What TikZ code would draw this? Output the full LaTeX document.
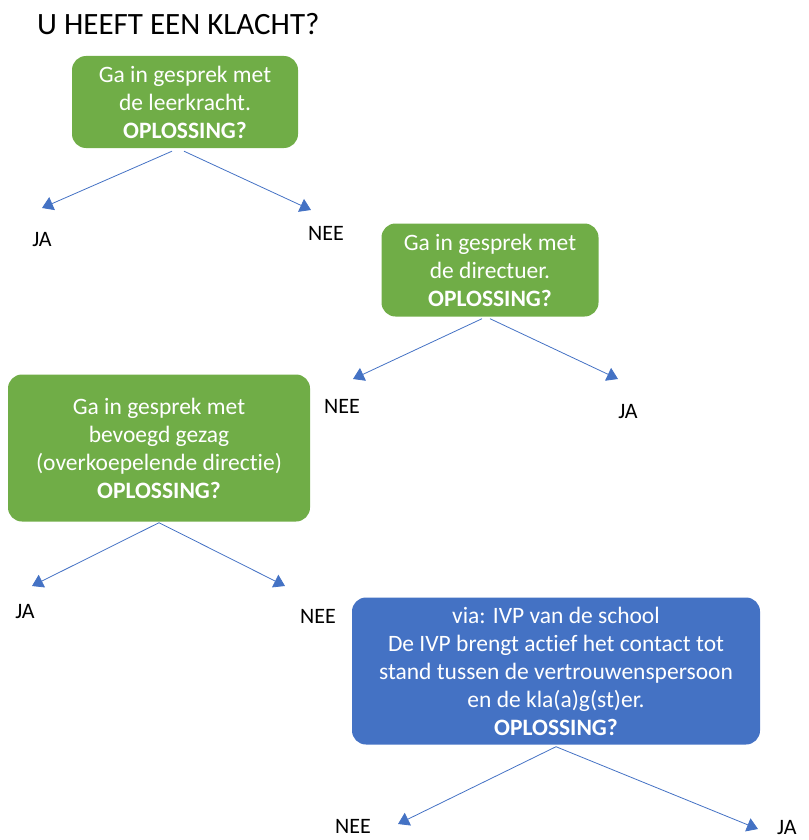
\documentclass[tikz,border=0pt]{standalone}
\usepackage{fontspec}
\setmainfont{Carlito}[Ligatures=NoCommon]
\usetikzlibrary{arrows.meta}
\definecolor{kgreen}{HTML}{70AD47}
\definecolor{kblue}{HTML}{4472C4}

\begin{document}
\begin{tikzpicture}[x=1pt, y=-1pt]
  \tikzstyle{greenbox} = [rectangle, rounded corners=14pt, fill=kgreen,
    text=white, align=center, inner sep=0pt, font=\fontsize{23.5}{28}\selectfont]
  \tikzstyle{bluebox} = [greenbox, fill=kblue]
  \tikzstyle{answer} = [font=\fontsize{22}{26}\selectfont, inner sep=0pt]
  \tikzstyle{line} = [draw=kblue, line width=0.8pt, -{Triangle[width=14pt,length=11pt]}]

  \useasboundingbox (0,0) rectangle (808,840);

  % Place nodes
  \node [anchor=west, inner sep=0pt, font=\fontsize{31}{36}\selectfont] (title) at (37,24)
    {U HEEFT EEN KLACHT?};
  \node [greenbox, minimum width=226pt, minimum height=92pt] (leerkracht) at (185,102)
    {Ga in gesprek met\\de leerkracht.\\\textbf{OPLOSSING?}};
  \node [greenbox, minimum width=217pt, minimum height=93pt] (directeur) at (490,270)
    {Ga in gesprek met\\de directuer.\\\textbf{OPLOSSING?}};
  \node [greenbox, minimum width=302pt, minimum height=147pt] (gezag) at (159,448)
    {Ga in gesprek met\\bevoegd gezag\\(overkoepelende directie)\\\textbf{OPLOSSING?}};
  \node [bluebox, minimum width=408pt, minimum height=147pt] (ivp) at (556,671)
    {via: IVP van de school\\De IVP brengt actief het contact tot\\stand tussen de vertrouwenspersoon\\en de kla(a)g(st)er.\\\textbf{OPLOSSING?}};

  \node [answer] (ja1) at (42,240) {JA};
  \node [answer] (nee1) at (326,233) {NEE};
  \node [answer] (nee2) at (342,406) {NEE};
  \node [answer] (ja2) at (628,412) {JA};
  \node [answer] (ja3) at (25,612) {JA};
  \node [answer] (nee3) at (318,616) {NEE};
  \node [answer] (nee4) at (353,826) {NEE};
  \node [answer, anchor=west] (ja4) at (777,828) {JA};

  % arrow tips
  \coordinate (t1) at (42,208);
  \coordinate (t2) at (311,210);
  \coordinate (t3) at (353,379);
  \coordinate (t4) at (618,379);
  \coordinate (t5) at (32,586);
  \coordinate (t6) at (285,586);
  \coordinate (t7) at (398,824);
  \coordinate (t8) at (758,829);

  % Draw edges
  \path [line] ([xshift=-13pt, yshift=-3pt]leerkracht.south) -- (t1);
  \path [line] ([xshift=-1pt, yshift=-3pt]leerkracht.south) -- (t2);
  \path [line] ([xshift=-8pt, yshift=-2pt]directeur.south) -- (t3);
  \path [line] ([yshift=-2pt]directeur.south) -- (t4);
  \path [line] ([yshift=-1pt]gezag.south) -- (t5);
  \path [line] ([yshift=-1pt]gezag.south) -- (t6);
  \path [line] ([yshift=-2pt]ivp.south) -- (t7);
  \path [line] ([yshift=-2pt]ivp.south) -- (t8);

\end{tikzpicture}
\end{document}
